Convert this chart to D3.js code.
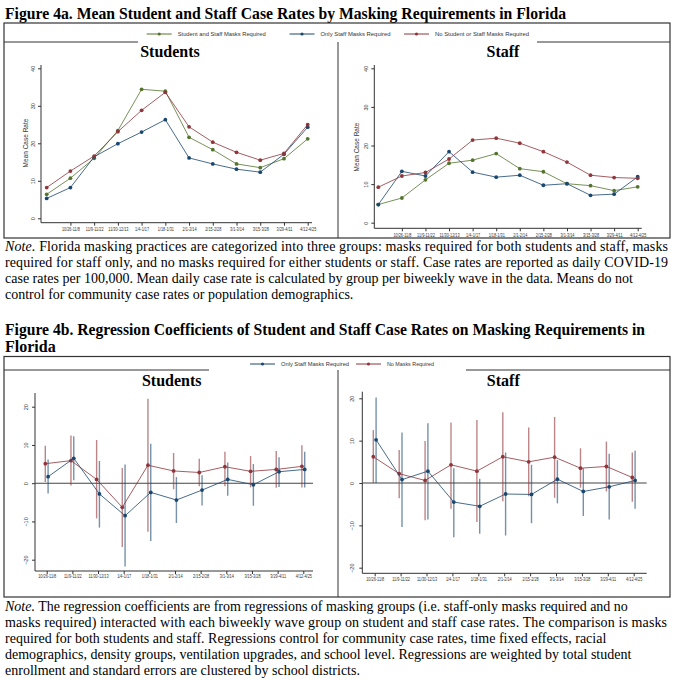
<!DOCTYPE html>
<html>
<head>
<meta charset="utf-8">
<script src="https://cdn.jsdelivr.net/npm/d3@7"></script>
<style>
  body { margin: 0; background: #fff; }
  svg { display: block; }
  .serif { font-family: "Liberation Serif", "Times New Roman", serif; fill: #000; }
  .narrow { font-family: "Liberation Sans Narrow", "Liberation Sans", Arial, sans-serif; fill: #333; }
</style>
</head>
<body>
<svg id="chart" width="673" height="680"></svg>
<script>
// ---- data ----
const waveLabels = ["10/26-11/8", "11/9-11/22", "11/30-12/13", "1/4-1/17", "1/18-1/31", "2/1-2/14",
                    "2/15-2/28", "3/1-3/14", "3/15-3/28", "3/29-4/11", "4/12-4/25"];
const groups4a = ["Student and Staff Masks Required", "Only Staff Masks Required", "No Student or Staff Masks Required"];
const groups4b = ["Only Staff Masks Required", "No Masks Required"];

// Figure 4a: 12 waves (first wave has no tick label)
const studBoth  = [6.4, 10.7, 16.0, 23.4, 34.4, 33.9, 21.6, 18.3, 14.5, 13.5, 15.9, 21.2];
const studStaff = [5.3, 8.2, 16.4, 19.9, 23.0, 26.3, 16.1, 14.5, 13.1, 12.3, 17.1, 24.3];
const studNone  = [8.2, 12.6, 16.6, 23.1, 28.8, 33.6, 24.4, 20.3, 17.6, 15.5, 17.3, 25.0];
const staffBoth  = [4.7, 6.4, 11.1, 15.4, 16.2, 17.9, 14.0, 13.2, 10.1, 9.6, 8.3, 9.3];
const staffStaff = [4.7, 13.3, 12.1, 18.4, 13.1, 11.8, 12.3, 9.7, 10.1, 7.1, 7.4, 11.9];
const staffNone  = [9.2, 12.1, 13.0, 16.5, 21.4, 21.9, 20.6, 18.4, 15.7, 12.3, 11.7, 11.5];

// Figure 4b: coefficient, lower CI, upper CI
const coefStudStaff = [1.7, 6.5, -2.8, -8.5, -2.4, -4.4, -1.8, 1.0, -0.4, 3.0, 3.6];
const loStudStaff   = [-2.7, 0.8, -11.6, -21.8, -15.1, -10.4, -5.8, -3.3, -5.9, -1.0, -1.1];
const hiStudStaff   = [6.2, 12.3, 5.8, 4.9, 10.3, 1.6, 2.1, 5.4, 5.0, 6.8, 8.2];
const coefStudNone  = [5.1, 5.9, 1.0, -6.3, 4.7, 3.2, 2.8, 4.3, 3.1, 3.6, 4.4];
const loStudNone    = [0.3, -0.6, -9.2, -16.7, -12.7, -1.6, -0.8, -0.8, -1.1, -1.2, -1.1];
const hiStudNone    = [9.8, 12.5, 11.3, 4.0, 22.1, 7.9, 6.4, 8.2, 7.1, 8.4, 9.9];
const coefStaffStaff = [10.2, 0.8, 2.8, -4.5, -5.5, -2.6, -2.7, 0.9, -2.0, -0.9, 0.6];
const loStaffStaff   = [0.0, -10.4, -8.6, -12.8, -12.0, -12.4, -9.5, -4.8, -7.8, -8.6, -6.1];
const hiStaffStaff   = [20.2, 11.9, 14.1, 3.5, 1.0, 7.2, 4.3, 5.4, 3.5, 6.9, 7.6];
const coefStaffNone  = [6.2, 2.2, 0.6, 4.3, 2.8, 6.2, 5.0, 6.1, 3.5, 3.9, 1.3];
const loStaffNone    = [0.0, -3.6, -8.8, -6.1, -9.2, -4.3, -3.1, -3.5, -1.1, -2.0, -4.4];
const hiStaffNone    = [12.5, 7.8, 9.9, 14.3, 14.9, 16.7, 13.1, 15.6, 8.2, 9.8, 7.2];

const green = "#55752f", navy = "#1a476f", maroon = "#90353b";

const note4a = [
  ["Note.", " Florida masking practices are categorized into three groups: masks required for both students and staff, masks", 663],
  ["", "required for staff only, and no masks required for either students or staff. Case rates are reported as daily COVID-19", 663],
  ["", "case rates per 100,000. Mean daily case rate is calculated by group per biweekly wave in the data. Means do not", null],
  ["", "control for community case rates or population demographics.", null]
];
const note4b = [
  ["Note.", " The regression coefficients are from regressions of masking groups (i.e. staff-only masks required and no", null],
  ["", "masks required) interacted with each biweekly wave group on student and staff case rates. The comparison is masks", 662],
  ["", "required for both students and staff.  Regressions control for community case rates, time fixed effects, racial", null],
  ["", "demographics, density groups, ventilation upgrades, and school level. Regressions are weighted by total student", null],
  ["", "enrollment and standard errors are clustered by school districts.", null]
];

const svg = d3.select("#chart");

// ---- text blocks ----
function heading(y, txt, len) {
  const t = svg.append("text").attr("class", "serif").attr("x", 5).attr("y", y)
    .attr("font-size", 16).attr("font-weight", "bold").text(txt);
  if (len) t.attr("textLength", len).attr("lengthAdjust", "spacingAndGlyphs");
}
function paragraph(y0, lines) {
  lines.forEach((ln, i) => {
    const t = svg.append("text").attr("class", "serif").attr("x", 5).attr("y", y0 + i * 16).attr("font-size", 14);
    if (ln[0]) t.append("tspan").attr("font-style", "italic").text(ln[0]);
    t.append("tspan").text(ln[1]);
    if (ln[2]) t.attr("textLength", ln[2]).attr("lengthAdjust", "spacing");
  });
}
heading(19, "Figure 4a. Mean Student and Staff Case Rates by Masking Requirements in Florida", 561);
paragraph(251, note4a);
heading(335, "Figure 4b. Regression Coefficients of Student and Staff Case Rates on Masking Requirements in", 640);
heading(352, "Florida");
paragraph(611, note4b);

// ---- frames (stata combined-graph look) ----
function frame(top, bottom, innerTop, gapL, gapR) {
  const g = svg.append("g").attr("stroke", "#333").attr("fill", "none");
  g.append("rect").attr("x", 4).attr("y", top).attr("width", 666).attr("height", bottom - top).attr("stroke-width", 1.2);
  g.append("line").attr("x1", 4).attr("x2", gapL).attr("y1", innerTop).attr("y2", innerTop);
  g.append("line").attr("x1", gapR).attr("x2", 670).attr("y1", innerTop).attr("y2", innerTop);
  g.append("line").attr("x1", 338).attr("x2", 338).attr("y1", innerTop).attr("y2", bottom);
}
frame(23, 238, 42, 138, 537);
frame(356.5, 597, 370, 209, 466);

function legend(y, items) {
  const g = svg.append("g");
  items.forEach(([x, label, col, w]) => {
    g.append("line").attr("x1", x).attr("x2", x + 25).attr("y1", y).attr("y2", y)
      .attr("stroke", col).attr("stroke-width", 1);
    g.append("circle").attr("cx", x + 12.5).attr("cy", y).attr("r", 1.6).attr("fill", col);
    g.append("text").attr("class", "narrow").attr("x", x + 31).attr("y", y + 2)
      .attr("font-size", 6.2).attr("textLength", w).attr("lengthAdjust", "spacingAndGlyphs").text(label);
  });
}
legend(34, [[146.7, groups4a[0], green, 88], [289.5, groups4a[1], navy, 70], [404, groups4a[2], maroon, 94]]);
legend(364, [[250, groups4b[0], navy, 68], [356, groups4b[1], maroon, 47]]);

// ---- axes helper ----
function axes(p, x, y, nLabels, labelOffset) {
  const g = svg.append("g");
  const ax = p.axisX, ay = p.axisY;
  g.append("line").attr("x1", ax).attr("x2", ax).attr("y1", p.yTop).attr("y2", ay).attr("stroke", "#333");
  g.append("line").attr("x1", ax).attr("x2", p.xRight).attr("y1", ay).attr("y2", ay).attr("stroke", "#333");

  const yAx = g.append("g").attr("transform", `translate(${ax},0)`)
    .call(d3.axisLeft(y).tickValues(p.yTicks).tickSize(3).tickSizeOuter(0));
  yAx.select(".domain").remove();
  yAx.selectAll("line").attr("stroke", "#333");
  yAx.selectAll("text").attr("class", "narrow").attr("font-size", 5.5).attr("fill", "#333")
    .attr("x", 0).attr("dy", 0).attr("text-anchor", "middle")
    .attr("transform", `translate(${-p.yLabOff},0) rotate(-90)`);

  const idx = d3.range(nLabels);
  const xAx = g.append("g").attr("transform", `translate(0,${ay})`)
    .call(d3.axisBottom(x).tickValues(idx.map(i => i + labelOffset))
      .tickFormat((d, i) => waveLabels[i]).tickSize(3).tickSizeOuter(0));
  xAx.select(".domain").remove();
  xAx.selectAll("line").attr("stroke", "#333");
  xAx.selectAll("text").attr("class", "narrow").attr("font-size", 4.8).attr("fill", "#333")
    .attr("y", p.xLabY).attr("transform", "scale(0.8,1)");

  svg.append("text").attr("class", "serif").attr("x", p.titleX).attr("y", p.titleY)
    .attr("text-anchor", "middle").attr("font-size", 16).attr("font-weight", "bold").text(p.title);
  if (p.yTitle) {
    svg.append("text").attr("class", "narrow").attr("font-size", 6.5).attr("text-anchor", "middle")
      .attr("transform", `translate(${p.yTitleX},${p.yTitleY}) rotate(-90)`).text(p.yTitle);
  }
}

function series(x, y, vals, col, dx = 0) {
  const line = d3.line().x((d, i) => x(i) + dx).y(d => y(d));
  svg.append("path").datum(vals).attr("d", line).attr("fill", "none")
    .attr("stroke", col).attr("stroke-opacity", 0.8).attr("stroke-width", 1);
  svg.append("g").selectAll("circle").data(vals).join("circle")
    .attr("cx", (d, i) => x(i) + dx).attr("cy", d => y(d)).attr("r", 1.9).attr("fill", col);
}

// ---- Figure 4a panels ----
function meanPanel(p, sets) {
  const x = d3.scaleLinear().domain([0, 11]).range(p.xRange);
  const y = d3.scaleLinear().domain([0, 40]).range(p.yRange);
  axes(p, x, y, 11, 1);
  sets.forEach(([vals, col]) => series(x, y, vals, col));
}
meanPanel({ xRange: [46.7, 307.7], yRange: [218.3, 68.3], axisX: 41, axisY: 222.7, yTop: 65, xRight: 312,
  yTicks: [0, 10, 20, 30, 40], yLabOff: 6, xLabY: 5, title: "Students", titleX: 170, titleY: 57,
  yTitle: "Mean Case Rate", yTitleX: 28, yTitleY: 143 },
  [[studBoth, green], [studStaff, navy], [studNone, maroon]]);
meanPanel({ xRange: [378.3, 637.7], yRange: [222.7, 68.3], axisX: 374.3, axisY: 228.3, yTop: 65, xRight: 641.7,
  yTicks: [0, 10, 20, 30, 40], yLabOff: 6, xLabY: 5, title: "Staff", titleX: 503, titleY: 57,
  yTitle: "Mean Case Rate", yTitleX: 358.5, yTitleY: 147 },
  [[staffBoth, green], [staffStaff, navy], [staffNone, maroon]]);

// ---- Figure 4b panels ----
function coefPanel(p, sets) {
  const x = d3.scaleLinear().domain([0, 10]).range(p.xRange);
  const y = d3.scaleLinear().domain([-20, 20]).range(p.yRange);
  axes(p, x, y, 11, 0);
  svg.append("line").attr("x1", p.axisX).attr("x2", p.xRight).attr("y1", y(0)).attr("y2", y(0))
    .attr("stroke", "#444").attr("stroke-width", 1.1);
  sets.forEach(([c, lo, hi, col, dx]) => {
    svg.append("g").selectAll("line").data(c).join("line")
      .attr("x1", (d, i) => x(i) + dx).attr("x2", (d, i) => x(i) + dx)
      .attr("y1", (d, i) => y(lo[i])).attr("y2", (d, i) => y(hi[i]))
      .attr("stroke", col).attr("stroke-opacity", 0.6).attr("stroke-width", 1.4);
  });
  sets.forEach(([c, lo, hi, col, dx]) => series(x, y, c, col, dx));
}
coefPanel({ xRange: [46.7, 303.3], yRange: [559.7, 406.7], axisX: 35, axisY: 571, yTop: 393, xRight: 313,
  yTicks: [-20, -10, 0, 10, 20], yLabOff: 7, xLabY: 4, title: "Students", titleX: 171.7, titleY: 386 },
  [[coefStudNone, loStudNone, hiStudNone, maroon, -1.4], [coefStudStaff, loStudStaff, hiStudStaff, navy, 1.4]]);
coefPanel({ xRange: [374.7, 633.7], yRange: [567.7, 398.3], axisX: 362.3, axisY: 573.3, yTop: 391.7, xRight: 646.7,
  yTicks: [-20, -10, 0, 10, 20], yLabOff: 8, xLabY: 4, title: "Staff", titleX: 503.3, titleY: 386 },
  [[coefStaffNone, loStaffNone, hiStaffNone, maroon, -1.4], [coefStaffStaff, loStaffStaff, hiStaffStaff, navy, 1.4]]);
</script>
</body>
</html>
